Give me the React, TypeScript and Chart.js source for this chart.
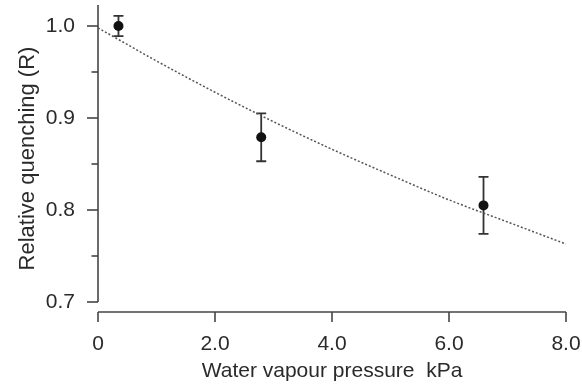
import React, { useEffect, useRef } from 'react';
import { Chart, registerables } from 'chart.js';

Chart.register(...registerables);

const pressure = [0.35, 2.79, 6.59];
const quenching = [1.0, 0.879, 0.805];
const errors = [0.011, 0.026, 0.031];

// Dotted fitted curve
const fitPressure = [0, 1, 2, 3, 4, 5, 6, 7, 8];
const fitQuenching = [0.998, 0.962, 0.928, 0.896, 0.866, 0.838, 0.811, 0.787, 0.763];

// Axis ticks
const xTicks = [0, 2, 4, 6, 8];
const xTickLabels = ['0', '2.0', '4.0', '6.0', '8.0'];
const yTicks = [0.7, 0.8, 0.9, 1.0];
const yTickLabels = ['0.7', '0.8', '0.9', '1.0'];
const yMinorTicks = [0.75, 0.85, 0.95];

const FONT = '"Liberation Sans", Arial, Helvetica, sans-serif';
const TEXT = '#2a2a2a';
const AXIS = '#454545';

const axesPlugin = {
  id: 'rAxes',
  beforeDatasetsDraw(chart: any) {
    const { ctx, chartArea, scales } = chart;
    const xs = scales.x;
    const ys = scales.y;
    ctx.save();
    ctx.strokeStyle = AXIS;
    ctx.lineWidth = 1.6;
    const ax = xs.getPixelForValue(0);
    ctx.beginPath();
    ctx.moveTo(ax, ys.getPixelForValue(yTicks[0]));
    ctx.lineTo(ax, chartArea.top);
    ctx.stroke();
    yTicks.forEach((v) => {
      const p = ys.getPixelForValue(v);
      ctx.beginPath();
      ctx.moveTo(ax - 11, p);
      ctx.lineTo(ax, p);
      ctx.stroke();
    });
    yMinorTicks.forEach((v) => {
      const p = ys.getPixelForValue(v);
      ctx.beginPath();
      ctx.moveTo(ax - 6.5, p);
      ctx.lineTo(ax, p);
      ctx.stroke();
    });
    const ay = chartArea.bottom;
    ctx.beginPath();
    ctx.moveTo(xs.getPixelForValue(xTicks[0]), ay);
    ctx.lineTo(xs.getPixelForValue(xTicks[xTicks.length - 1]), ay);
    ctx.stroke();
    xTicks.forEach((v) => {
      const p = xs.getPixelForValue(v);
      ctx.beginPath();
      ctx.moveTo(p, ay);
      ctx.lineTo(p, ay + 10);
      ctx.stroke();
    });
    ctx.strokeStyle = '#333';
    ctx.lineWidth = 1.8;
    pressure.forEach((px, i) => {
      const x = xs.getPixelForValue(px);
      const yt = ys.getPixelForValue(quenching[i] + errors[i]);
      const yb = ys.getPixelForValue(quenching[i] - errors[i]);
      ctx.beginPath();
      ctx.moveTo(x, yt);
      ctx.lineTo(x, yb);
      ctx.moveTo(x - 5, yt);
      ctx.lineTo(x + 5, yt);
      ctx.moveTo(x - 5, yb);
      ctx.lineTo(x + 5, yb);
      ctx.stroke();
    });
    ctx.restore();
  },
};

const zeroPad = (s: any) => {
  s.paddingTop = 0;
  s.paddingBottom = 0;
  s.paddingLeft = 0;
  s.paddingRight = 0;
};

export default function App() {
  const ref = useRef<HTMLCanvasElement | null>(null);
  useEffect(() => {
    if (!ref.current) return;
    const chart = new Chart(ref.current, {
      type: 'scatter',
      data: {
        datasets: [
          {
            type: 'line',
            data: fitPressure.map((x, i) => ({ x, y: fitQuenching[i] })),
            borderColor: '#555',
            borderWidth: 1.5,
            borderDash: [2, 2],
            pointRadius: 0,
            cubicInterpolationMode: 'monotone',
            fill: false,
          } as any,
          {
            data: pressure.map((x, i) => ({ x, y: quenching[i] })),
            backgroundColor: '#111',
            borderColor: '#111',
            pointRadius: 5,
            borderWidth: 0,
          },
        ],
      },
      options: {
        animation: false,
        responsive: false,
        layout: { padding: { left: 0, right: 16, top: 5, bottom: 0 } },
        plugins: { legend: { display: false }, tooltip: { enabled: false } },
        scales: {
          x: {
            type: 'linear',
            min: 0,
            max: 8,
            grid: { display: false, drawTicks: false },
            border: { display: false },
            afterBuildTicks: (s: any) => {
              s.ticks = xTicks.map((v) => ({ value: v }));
            },
            afterFit: (s: any) => {
              s.height = 80;
              zeroPad(s);
            },
            ticks: {
              padding: 20,
              color: TEXT,
              font: { family: FONT, size: 21 },
              callback: (v: any) => xTickLabels[xTicks.indexOf(Number(v))] ?? '',
            },
            title: {
              display: true,
              text: 'Water vapour pressure  kPa',
              color: TEXT,
              font: { family: FONT, size: 21 },
              padding: { top: 0, bottom: 8 },
            },
          },
          y: {
            type: 'linear',
            min: 0.7 - 10 / 920,
            max: 1.0 + 21 / 920,
            grid: { display: false, drawTicks: false },
            border: { display: false },
            afterBuildTicks: (s: any) => {
              s.ticks = yTicks.map((v) => ({ value: v }));
            },
            afterFit: (s: any) => {
              s.width = 98;
              zeroPad(s);
            },
            ticks: {
              padding: 23,
              color: TEXT,
              font: { family: FONT, size: 21 },
              callback: (v: any) => {
                const i = yTicks.findIndex((t) => Math.abs(t - Number(v)) < 1e-6);
                return i >= 0 ? yTickLabels[i] : '';
              },
            },
            title: {
              display: true,
              text: 'Relative quenching (R)',
              color: TEXT,
              font: { family: FONT, size: 22 },
              padding: { top: 15, bottom: 0 },
            },
          },
        },
      },
      plugins: [axesPlugin],
    });
    return () => chart.destroy();
  }, []);
  return (
    <div style={{ position: 'fixed', left: 0, top: 0, width: 582, height: 392, background: '#fff' }}>
      <canvas ref={ref} width={582} height={392} />
    </div>
  );
}
